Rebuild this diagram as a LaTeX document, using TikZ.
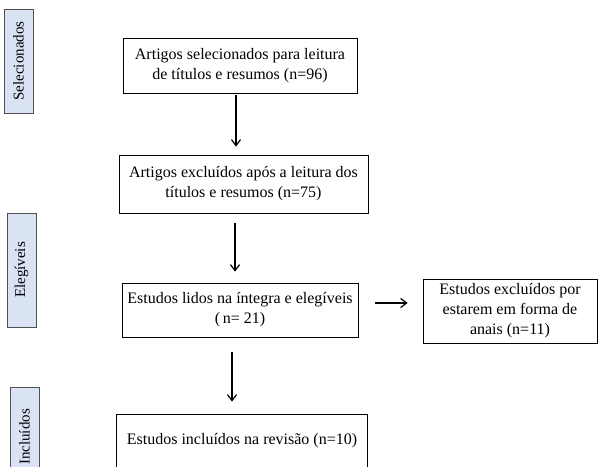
\documentclass[tikz,border=0pt]{standalone}
\usepackage{fontspec}
\setmainfont{Liberation Serif}
\usetikzlibrary{arrows.meta}
\definecolor{lblfill}{HTML}{DAE3F3}
\definecolor{lbldraw}{HTML}{505050}
\tikzset{
  x=1pt,y=-1pt,
  flowbox/.style={draw=black, line width=0.8pt, fill=white, align=center, inner sep=0pt,
    font=\fontsize{16}{20}\selectfont},
  lbl/.style={draw=lbldraw, line width=0.8pt, fill=lblfill, rotate=90, inner sep=0pt,
    font=\fontsize{15}{18}\selectfont},
  arr/.style={-{Straight Barb[length=6pt,width=9pt,line width=1.2pt]}, line width=1.2pt},
}
\begin{document}
\begin{tikzpicture}
\useasboundingbox (0,0) rectangle (602,466);
\clip (0,0) rectangle (602,466);
% side labels
\node[lbl, minimum width=104, minimum height=29] (sel) at (18.5,61) {Selecionados};
\node[lbl, minimum width=114, minimum height=29] (ele) at (21.5,270) {Elegíveis};
\node[lbl, minimum width=100, minimum height=29] (inc) at (24.5,437) {Incluídos};
% boxes
\node[flowbox, minimum width=234, minimum height=55] (b1) at (240,65.5)
  {Artigos selecionados para leitura\\de títulos e resumos (n=96)};
\node[flowbox, minimum width=249, minimum height=58] (b2) at (243.5,184)
  {Artigos excluídos após a leitura dos\\títulos e resumos (n=75)};
\node[flowbox, minimum width=236, minimum height=54] (b3) at (240,310)
  {Estudos lidos na íntegra e elegíveis\\(\,n= 21)};
\node[flowbox, minimum width=174, minimum height=64] (b5) at (510,311)
  {Estudos excluídos por\\estarem em forma de\\anais (n=11)};
\node[flowbox, draw=none, minimum width=250, minimum height=100] (b4) at (242,465) {};
\draw[line width=0.8pt] (b4.south west) -- (b4.north west) -- (b4.north east) -- (b4.south east);
\node[font=\fontsize{16}{20}\selectfont, inner sep=0pt] (t4) at (242,441) {Estudos incluídos na revisão (n=10)};
% arrows
\coordinate (a1) at (236,0);
\coordinate (a2) at (235,0);
\coordinate (a3) at (232,0);
\draw[arr, shorten <=2pt, shorten >=8pt] (b1.south -| a1) -- (b2.north -| a1);
\draw[arr, shorten <=10pt, shorten >=11pt] (b2.south -| a2) -- (b3.north -| a2);
\draw[arr, shorten <=15pt, shorten >=13pt] (b3.south -| a3) -- (b4.north -| a3);
\draw[arr, shorten <=17pt, shorten >=15pt] (b3.east |- 0,303) -- (b5.west |- 0,303);
\end{tikzpicture}
\end{document}
